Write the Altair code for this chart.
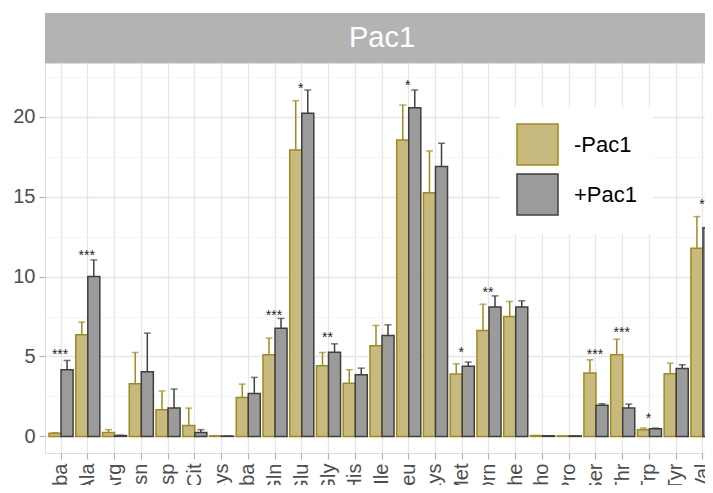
import altair as alt
import pandas as pd

aminos = ["Aba", "Ala", "Arg", "Asn", "Asp", "Cit", "Cys", "GAba", "Gln", "Glu",
          "Gly", "His", "Ile", "Leu", "Lys", "Met", "Orn", "Phe", "Pho", "Pro",
          "Ser", "Thr", "Trp", "Tyr", "Val"]
groups = ["-Pac1", "+Pac1"]

minus_mean = [0.20, 6.36, 0.25, 3.30, 1.67, 0.68, 0.03, 2.44, 5.10, 17.92,
              4.42, 3.33, 5.67, 18.54, 15.25, 3.90, 6.63, 7.50, 0.05, 0.03,
              3.96, 5.10, 0.42, 3.92, 11.77]
minus_err = [0.03, 0.79, 0.17, 1.95, 1.17, 1.09, 0.00, 0.83, 1.05, 3.08,
             0.83, 0.84, 1.27, 2.19, 2.61, 0.64, 1.64, 0.94, 0.00, 0.00,
             0.83, 0.98, 0.10, 0.66, 1.98]
plus_mean = [4.17, 10.00, 0.05, 4.04, 1.77, 0.25, 0.02, 2.69, 6.77, 20.21,
             5.27, 3.86, 6.31, 20.56, 16.88, 4.38, 8.09, 8.09, 0.04, 0.03,
             1.94, 1.77, 0.48, 4.25, 13.06]
plus_err = [0.58, 1.04, 0.02, 2.42, 1.19, 0.17, 0.00, 1.00, 0.61, 1.46,
            0.52, 0.41, 0.67, 1.11, 1.46, 0.27, 0.70, 0.39, 0.00, 0.00,
            0.10, 0.25, 0.04, 0.23, 0.96]

star_amino = ["Aba", "Ala", "Gln", "Glu", "Gly", "Leu", "Met", "Orn", "Ser", "Thr", "Trp", "Val"]
star_text = ["***", "***", "***", "*", "**", "*", "*", "**", "***", "***", "*", "*"]
star_y = [5.29, 11.46, 7.75, 21.92, 6.36, 22.09, 5.42, 9.17, 5.31, 6.67, 1.29, 14.69]

y_grid = [0, 2.5, 5, 7.5, 10, 12.5, 15, 17.5, 20, 22.5]
y_domain = [-1.04, 23.36]
facet_label = "Pac1"

fill_colors = ["#C8BA7E", "#9B9B9B"]
stroke_colors = ["#A08A1E", "#3F3F3F"]

rows = []
for i, a in enumerate(aminos):
    rows.append({"amino": a, "group": groups[0], "mean": minus_mean[i], "top": minus_mean[i] + minus_err[i]})
    rows.append({"amino": a, "group": groups[1], "mean": plus_mean[i], "top": plus_mean[i] + plus_err[i]})
df = pd.DataFrame(rows)
stars = pd.DataFrame({"amino": star_amino, "label": star_text, "y": star_y})

FONT = "Liberation Sans"
W = 660        # visible plot width (page is 713 wide, 8px margin)
H = 390
RANGE = 674    # full panel width (panel continues past the right edge)
STRIP = 50

xscale = alt.Scale(domain=aminos, range=[0, RANGE], paddingInner=0, paddingOuter=0.1)
x_axis = alt.Axis(title=None, labelAngle=270, labelFontSize=20, labelColor="#4D4D4D",
                  labelFont=FONT, tickColor="#B3B3B3", tickSize=6, tickWidth=1.2,
                  grid=True, gridColor="#E6E6E6", gridWidth=1.3, domain=False,
                  labelPadding=4)
x_enc = alt.X("amino:N", scale=xscale, axis=x_axis, sort=aminos)
xoff = alt.XOffset("group:N", scale=alt.Scale(domain=groups, paddingInner=0, paddingOuter=0.111))
yscale = alt.Scale(domain=y_domain, nice=False, zero=False)
y_axis = alt.Axis(values=y_grid, title=None, labelFontSize=20, labelColor="#4D4D4D",
                  labelFont=FONT, labelExpr="datum.value % 5 === 0 ? datum.label : ''",
                  tickColor="#B3B3B3", tickSize=6,
                  tickWidth={"condition": {"test": "datum.value % 5 !== 0", "value": 0}, "value": 1.2},
                  gridColor={"condition": {"test": "datum.value % 5 !== 0", "value": "#F0F0F0"}, "value": "#E6E6E6"},
                  gridWidth={"condition": {"test": "datum.value % 5 !== 0", "value": 0.7}, "value": 1.3},
                  domain=False, labelPadding=4)

legend = alt.Legend(orient="none", legendX=455, legendY=44, title=None,
                    symbolType="square", symbolSize=1681, symbolStrokeWidth=1.5,
                    labelFontSize=22, labelFont=FONT, labelColor="#000000",
                    fillColor="white", padding=16, rowPadding=3, labelOffset=15,
                    symbolOpacity=1)

bars = alt.Chart(df).mark_bar(strokeWidth=1.5, clip=True).encode(
    x=x_enc,
    xOffset=xoff,
    y=alt.Y("mean:Q", scale=yscale, stack=None, axis=y_axis),
    fill=alt.Fill("group:N", scale=alt.Scale(domain=groups, range=fill_colors), legend=legend),
    stroke=alt.Stroke("group:N", scale=alt.Scale(domain=groups, range=stroke_colors), legend=legend),
)

err_color = "datum.group == '-Pac1' ? '" + stroke_colors[0] + "' : '" + stroke_colors[1] + "'"

err = alt.Chart(df).transform_calculate(ec=err_color).mark_rule(strokeWidth=1.5, clip=True).encode(
    x=x_enc,
    xOffset=xoff,
    y=alt.Y("mean:Q", scale=yscale, axis=y_axis),
    y2="top:Q",
    stroke=alt.Stroke("ec:N", scale=None),
)

caps = alt.Chart(df).transform_calculate(ec=err_color).mark_tick(
    orient="horizontal", size=7, thickness=1.5, clip=True).encode(
    x=x_enc,
    xOffset=xoff,
    y=alt.Y("top:Q", scale=yscale, axis=y_axis),
    color=alt.Color("ec:N", scale=None),
)

star_layer = alt.Chart(stars).mark_text(fontSize=14, font=FONT, color="#222222",
                                        baseline="middle", dy=3, dx=-1).encode(
    x=x_enc,
    y=alt.Y("y:Q", scale=yscale, axis=y_axis),
    text="label:N",
)

strip_df = pd.DataFrame({"t": [facet_label]})
strip_bg = alt.Chart(strip_df).mark_rect(color="#B3B3B3", clip=False).encode(
    x=alt.value(0), x2=alt.value(W), y=alt.value(-STRIP), y2=alt.value(0))
strip_text = alt.Chart(strip_df).mark_text(color="white", fontSize=29, font=FONT,
                                           baseline="middle", clip=False).encode(
    x=alt.value(RANGE / 2), y=alt.value(-STRIP / 2), text="t:N")

chart = alt.layer(err, caps, bars, star_layer, strip_bg, strip_text).properties(
    width=W, height=H,
    autosize=alt.AutoSizeParams(type="none"),
    padding={"left": 37, "top": 55, "right": 0, "bottom": 32},
).configure_view(stroke="#B3B3B3", strokeWidth=1).configure(font=FONT)

chart.save("out.html", embed_options={"renderer": "svg", "actions": False})
